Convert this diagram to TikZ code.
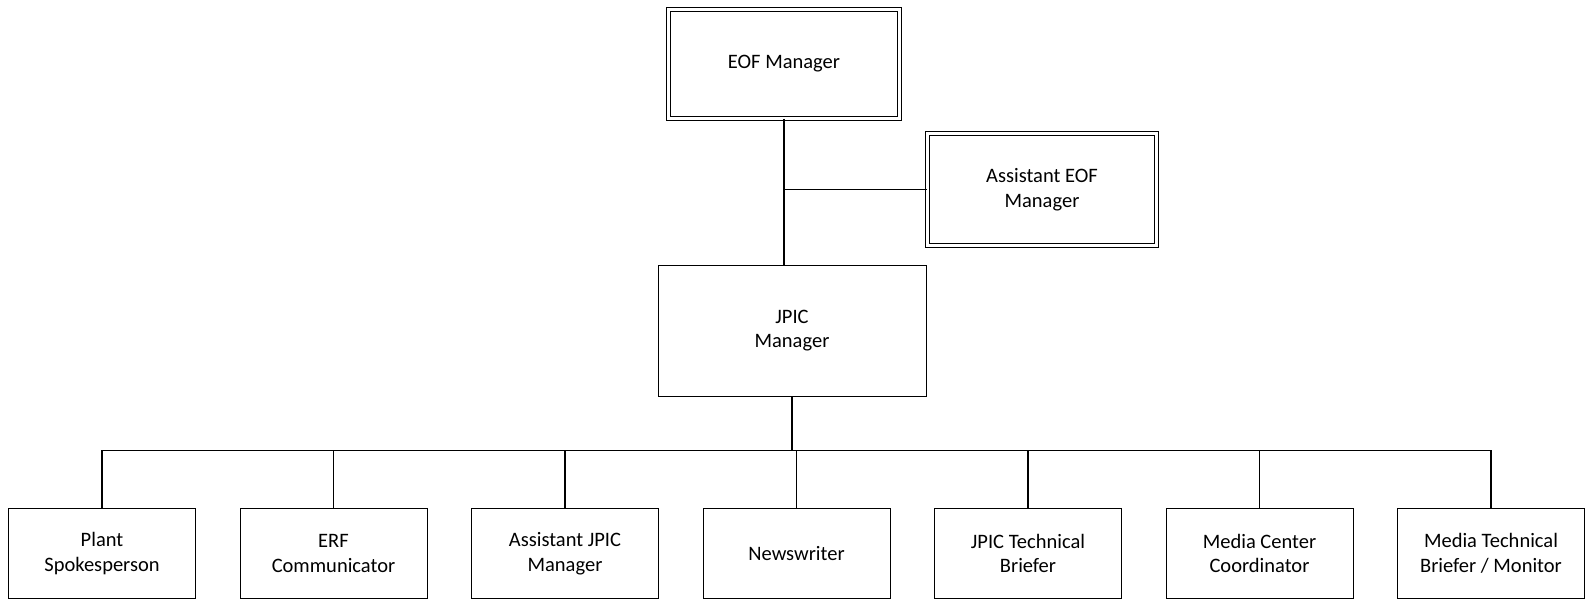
\documentclass[tikz,border=0pt]{standalone}
\usepackage{fontspec}
\setmainfont{Carlito}
\usetikzlibrary{positioning}

\begin{document}
\begin{tikzpicture}[
    x=1pt, y=-1pt,
    font=\fontsize{20.5}{24.5}\selectfont,
    node distance=43.6pt,
    role/.style  ={rectangle, draw=black, line width=0.9pt, fill=white,
                   minimum width=187pt, minimum height=90pt, align=center, inner sep=2pt},
    head/.style  ={rectangle, draw=black, line width=0.8pt, double, double distance=3pt,
                   align=center, inner sep=2pt},
    link/.style  ={draw=black, line width=1.2pt},
]
\useasboundingbox (0,0) rectangle (1585,599);

% ---- Top of the chart ----
\node[head, minimum width=231pt, minimum height=109pt] (eof) at (784,64) {EOF Manager};
\node[head, minimum width=229pt, minimum height=112pt] (asst) at (1042,189.5) {Assistant EOF\\Manager};
\node[role, minimum width=268pt, minimum height=131pt] (jpic) at (792,330.5) {JPIC\\Manager};

% ---- Staff row ----
\node[role] (plant) at (102,553.5) {Plant\\Spokesperson};
\node[role, right=of plant] (erf)    {ERF\\Communicator};
\node[role, right=of erf]   (ajpic)  {Assistant JPIC\\Manager};
\node[role, right=of ajpic] (news)   {Newswriter};
\node[role, right=of news]  (brief)  {JPIC Technical\\Briefer};
\node[role, right=of brief] (media)  {Media Center\\Coordinator};
\node[role, right=of media] (mtech)  {Media Technical\\Briefer / Monitor};

% ---- Lines ----
\draw[link] (eof.south) -- (eof.south |- jpic.north);
\draw[link] (asst.west) -- (asst.west -| eof.south);

\coordinate[below=54pt of jpic.south] (bus);
\draw[link] (jpic.south) -- (bus);
\foreach \n in {plant, erf, ajpic, news, brief, media, mtech} {
   \draw[link] (bus) -| (\n.north);
}

\end{tikzpicture}
\end{document}
